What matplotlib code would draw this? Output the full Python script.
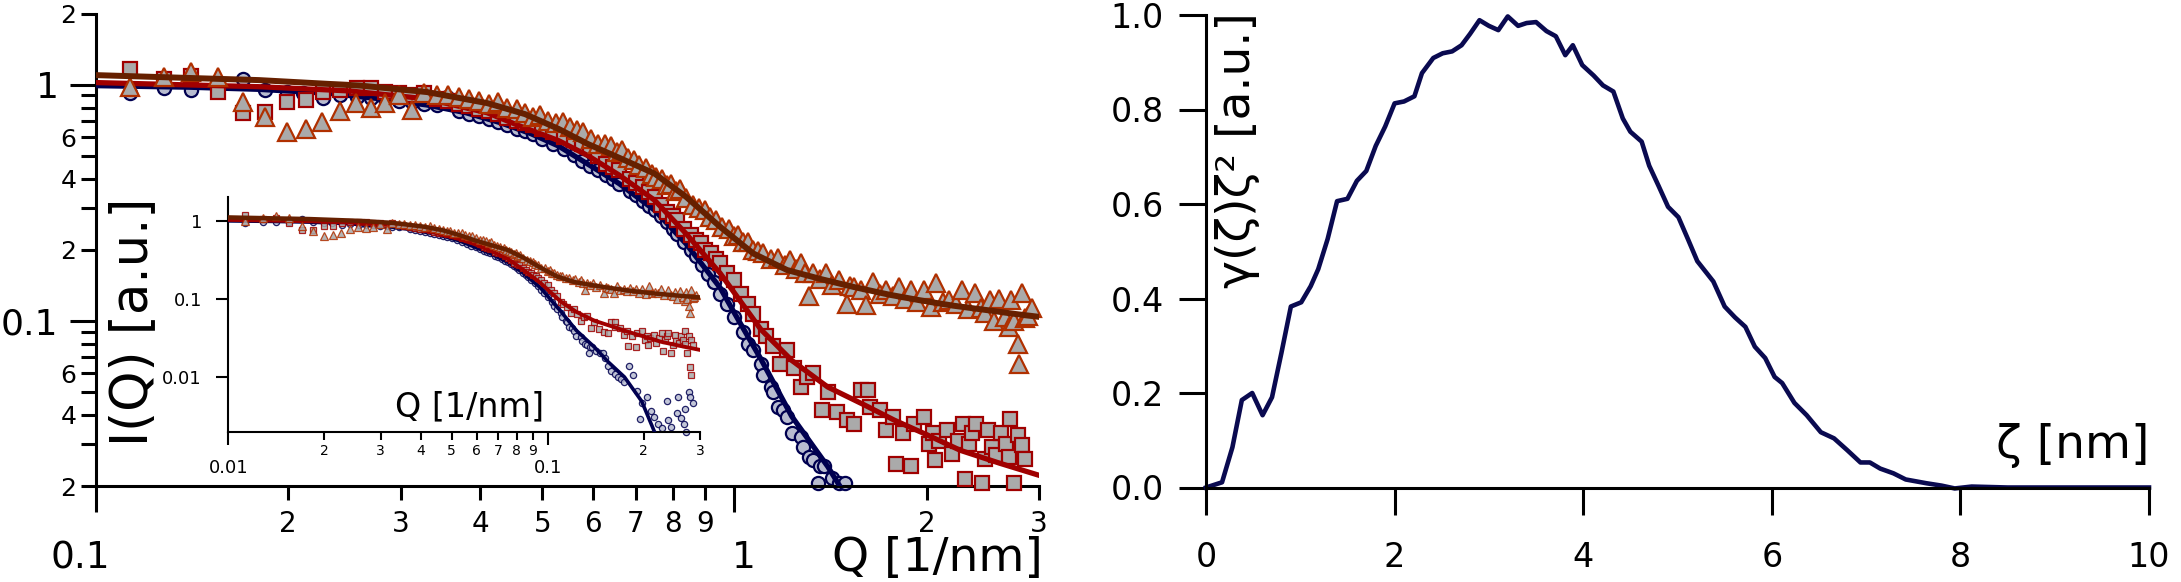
import numpy as np
import matplotlib
matplotlib.use("Agg")
import matplotlib.pyplot as plt
from matplotlib.ticker import FixedLocator, FixedFormatter, NullLocator
from matplotlib.transforms import ScaledTranslation

plt.rcParams['font.family'] = ['DejaVu Sans']

# ---- scattering curves, values (Q in 1/nm) ----
circle_q = [
    0.113, 0.128, 0.141, 0.155, 0.170, 0.184, 0.199, 0.211, 0.227, 0.241,
    0.256, 0.270, 0.284, 0.298, 0.313, 0.326, 0.342, 0.355, 0.370, 0.384,
    0.398, 0.413, 0.427, 0.441, 0.456, 0.470, 0.483, 0.500, 0.520, 0.540,
    0.560, 0.577, 0.595, 0.612, 0.630, 0.645, 0.660, 0.685, 0.700, 0.720,
    0.735, 0.750, 0.767, 0.784, 0.800, 0.814, 0.835, 0.855, 0.870, 0.890,
    0.910, 0.930, 0.950, 0.975, 1.000, 1.030, 1.050, 1.070, 1.100, 1.110,
    1.140, 1.150, 1.170, 1.190, 1.210, 1.230, 1.270, 1.280, 1.310, 1.330,
    1.350, 1.360, 1.380, 1.420, 1.460, 1.490, 1.510, 1.550, 1.580, 1.620,
    1.660, 1.700, 1.740, 1.800, 1.850, 1.900, 1.950, 1.970, 2.040, 2.100,
    2.160, 2.220, 2.280, 2.360, 2.380, 2.440, 2.540, 2.560, 2.620, 2.680,
    2.700, 2.720, 2.780, 2.800, 2.850]
circle_i = [
    0.918, 0.963, 0.948, 0.96, 1.06, 0.95, 0.93, 0.925, 0.874, 0.90,
    0.89, 0.88, 0.87, 0.855, 0.845, 0.83, 0.82, 0.888, 0.772, 0.752,
    0.735, 0.713, 0.694, 0.674, 0.652, 0.634, 0.616, 0.591, 0.563, 0.533,
    0.503, 0.477, 0.453, 0.434, 0.413, 0.397, 0.381, 0.355, 0.340, 0.321,
    0.307, 0.294, 0.277, 0.261, 0.246, 0.234, 0.216, 0.200, 0.189, 0.172,
    0.158, 0.146, 0.130, 0.118, 0.104, 0.090, 0.080, 0.075, 0.066, 0.059,
    0.0527, 0.050, 0.0434, 0.042, 0.039, 0.0334, 0.0324, 0.0292, 0.0265, 0.0258,
    0.0205, 0.0242, 0.0242, 0.0217, 0.0205, 0.0205, 0.0175, 0.0140, 0.0121, 0.0110,
    0.0100, 0.0095, 0.0086, 0.0140, 0.0105, 0.0067, 0.0029, 0.0046, 0.0056, 0.0037,
    0.0031, 0.0025, 0.0022, 0.0050, 0.0028, 0.0023, 0.0035, 0.0055, 0.0030, 0.0025,
    0.0039, 0.0020, 0.0064, 0.0055, 0.0046]

square_q = [
    0.113, 0.128, 0.141, 0.155, 0.170, 0.184, 0.199, 0.213, 0.227, 0.241,
    0.256, 0.270, 0.284, 0.298, 0.310, 0.326, 0.342, 0.356, 0.370, 0.384,
    0.398, 0.413, 0.427, 0.441, 0.456, 0.470, 0.483, 0.500, 0.520, 0.540,
    0.560, 0.577, 0.595, 0.612, 0.630, 0.645, 0.660, 0.685, 0.700, 0.720,
    0.735, 0.750, 0.767, 0.784, 0.800, 0.814, 0.835, 0.855, 0.870, 0.885,
    0.900, 0.920, 0.935, 0.950, 0.975, 1.000, 1.025, 1.050, 1.070, 1.100,
    1.120, 1.150, 1.180, 1.210, 1.240, 1.270, 1.300, 1.330, 1.370, 1.400,
    1.450, 1.500, 1.540, 1.580, 1.620, 1.630, 1.690, 1.730, 1.770, 1.790,
    1.840, 1.890, 1.910, 1.980, 2.020, 2.050, 2.060, 2.090, 2.150, 2.190,
    2.240, 2.280, 2.300, 2.330, 2.360, 2.390, 2.440, 2.470, 2.500, 2.530,
    2.570, 2.620, 2.660, 2.690, 2.700, 2.740, 2.780, 2.790, 2.810, 2.820,
    2.850]
square_i = [
    1.17, 1.06, 1.09, 0.932, 0.755, 0.767, 0.845, 0.86, 0.932, 0.948,
    0.963, 0.963, 0.932, 0.92, 0.90, 0.918, 0.87, 0.85, 0.83, 0.81,
    0.79, 0.77, 0.75, 0.72, 0.70, 0.69, 0.674, 0.65, 0.631, 0.60,
    0.582, 0.56, 0.545, 0.50, 0.463, 0.45, 0.435, 0.40, 0.385, 0.369,
    0.35, 0.335, 0.31, 0.289, 0.278, 0.267, 0.245, 0.23, 0.22, 0.213,
    0.20, 0.193, 0.183, 0.175, 0.16, 0.149, 0.13, 0.118, 0.107, 0.092,
    0.086, 0.078, 0.066, 0.075, 0.063, 0.0527, 0.058, 0.060, 0.042, 0.050,
    0.0412, 0.0379, 0.0367, 0.0508, 0.0508, 0.0434, 0.042, 0.0344, 0.039, 0.0249,
    0.0334, 0.0242, 0.0367, 0.039, 0.030, 0.0334, 0.0258, 0.0311, 0.0344, 0.0274,
    0.0311, 0.0367, 0.0215, 0.030, 0.0334, 0.0367, 0.0205, 0.026, 0.0344, 0.0292,
    0.027, 0.0334, 0.030, 0.0265, 0.0385, 0.0205, 0.033, 0.0134, 0.0105, 0.0298,
    0.026]

triangle_q = [
    0.113, 0.128, 0.141, 0.155, 0.170, 0.184, 0.199, 0.213, 0.226, 0.241,
    0.255, 0.270, 0.284, 0.298, 0.313, 0.326, 0.342, 0.356, 0.370, 0.384,
    0.398, 0.413, 0.427, 0.441, 0.456, 0.470, 0.483, 0.496, 0.510, 0.525,
    0.539, 0.553, 0.567, 0.580, 0.596, 0.612, 0.626, 0.640, 0.654, 0.667,
    0.681, 0.695, 0.710, 0.728, 0.742, 0.755, 0.770, 0.783, 0.797, 0.810,
    0.821, 0.840, 0.861, 0.880, 0.898, 0.915, 0.935, 0.955, 0.980, 1.000,
    1.014, 1.030, 1.050, 1.070, 1.090, 1.110, 1.140, 1.170, 1.200, 1.220,
    1.250, 1.270, 1.290, 1.310, 1.330, 1.360, 1.390, 1.420, 1.460, 1.500,
    1.520, 1.540, 1.580, 1.610, 1.650, 1.690, 1.730, 1.770, 1.810, 1.850,
    1.890, 1.930, 1.980, 2.030, 2.070, 2.120, 2.170, 2.220, 2.270, 2.320,
    2.380, 2.430, 2.470, 2.510, 2.550, 2.600, 2.650, 2.690, 2.710, 2.740,
    2.780, 2.790, 2.820, 2.850, 2.880, 2.920]
triangle_i = [
    0.98, 1.08, 1.13, 1.08, 0.845, 0.73, 0.63, 0.646, 0.696, 0.772,
    0.833, 0.80, 0.837, 0.90, 0.78, 0.918, 0.90, 0.90, 0.89, 0.87,
    0.85, 0.83, 0.845, 0.80, 0.79, 0.76, 0.73, 0.743, 0.70, 0.69,
    0.696, 0.66, 0.64, 0.631, 0.59, 0.563, 0.56, 0.549, 0.52, 0.528,
    0.49, 0.479, 0.455, 0.442, 0.42, 0.407, 0.40, 0.375, 0.381, 0.355,
    0.363, 0.33, 0.309, 0.30, 0.294, 0.275, 0.267, 0.25, 0.246, 0.228,
    0.231, 0.215, 0.216, 0.20, 0.198, 0.193, 0.182, 0.184, 0.172, 0.181,
    0.166, 0.175, 0.160, 0.128, 0.159, 0.150, 0.159, 0.142, 0.149, 0.118,
    0.140, 0.139, 0.135, 0.117, 0.146, 0.130, 0.135, 0.127, 0.139, 0.124,
    0.135, 0.120, 0.135, 0.115, 0.144, 0.120, 0.122, 0.118, 0.135, 0.112,
    0.131, 0.113, 0.108, 0.122, 0.100, 0.124, 0.104, 0.094, 0.122, 0.100,
    0.080, 0.066, 0.131, 0.1025, 0.105, 0.113]

# model fits
blue_fit_q = [0.10, 0.14, 0.18, 0.23, 0.28, 0.33, 0.38, 0.43, 0.48, 0.53, 0.59, 0.66,
              0.75, 0.84, 0.95, 1.01, 1.10, 1.23, 1.40, 1.55, 1.74, 1.97, 2.16]
blue_fit_i = [0.990, 0.975, 0.955, 0.92, 0.87, 0.82, 0.76, 0.69, 0.62, 0.55, 0.46, 0.381,
              0.294, 0.212, 0.138, 0.103, 0.069, 0.0394, 0.0242, 0.0155, 0.0100, 0.0049, 0.0020]
red_fit_q = [0.10, 0.18, 0.25, 0.33, 0.41, 0.46, 0.53, 0.59, 0.66, 0.75, 0.84, 0.95,
             1.10, 1.23, 1.40, 1.60, 1.78, 2.00, 2.26, 2.60, 3.00]
red_fit_i = [1.02, 0.98, 0.94, 0.87, 0.76, 0.67, 0.58, 0.50, 0.414, 0.324, 0.234, 0.159,
             0.092, 0.068, 0.0525, 0.044, 0.038, 0.033, 0.0283, 0.025, 0.0222]
brown_fit_q = [0.10, 0.18, 0.26, 0.33, 0.41, 0.47, 0.53, 0.59, 0.66, 0.75, 0.84, 0.95,
               1.07, 1.21, 1.37, 1.54, 1.75, 1.96, 2.20, 2.49, 2.75, 3.00]
brown_fit_i = [1.097, 1.045, 0.99, 0.93, 0.835, 0.75, 0.65, 0.56, 0.49, 0.42, 0.335, 0.25,
               0.193, 0.164, 0.150, 0.139, 0.129, 0.122, 0.116, 0.111, 0.107, 0.104]

# correlation function
zeta = [0.00, 0.17, 0.28, 0.38, 0.49, 0.60, 0.70, 0.80, 0.90, 1.01,
        1.11, 1.19, 1.29, 1.39, 1.50, 1.60, 1.70, 1.80, 1.90, 2.00,
        2.10, 2.21, 2.29, 2.41, 2.51, 2.61, 2.71, 2.80, 2.90, 3.00,
        3.10, 3.20, 3.31, 3.40, 3.50, 3.61, 3.71, 3.81, 3.89, 3.99,
        4.11, 4.21, 4.32, 4.42, 4.50, 4.62, 4.70, 4.80, 4.90, 5.01,
        5.11, 5.21, 5.38, 5.50, 5.61, 5.72, 5.82, 5.93, 6.03, 6.11,
        6.24, 6.37, 6.52, 6.66, 6.80, 6.94, 7.04, 7.15, 7.29, 7.42,
        7.64, 7.80, 7.94, 8.12, 8.50, 9.00, 9.50, 10.00]
gamma = [0.000, 0.011, 0.085, 0.185, 0.200, 0.153, 0.191, 0.285, 0.383, 0.392,
         0.426, 0.462, 0.526, 0.606, 0.611, 0.649, 0.670, 0.723, 0.764, 0.813,
         0.817, 0.828, 0.877, 0.909, 0.919, 0.923, 0.936, 0.960, 0.989, 0.977,
         0.968, 0.997, 0.977, 0.983, 0.985, 0.966, 0.955, 0.915, 0.936, 0.894,
         0.872, 0.851, 0.838, 0.781, 0.753, 0.732, 0.681, 0.638, 0.594, 0.572,
         0.526, 0.479, 0.436, 0.383, 0.360, 0.340, 0.298, 0.274, 0.234, 0.221,
         0.179, 0.153, 0.117, 0.104, 0.079, 0.053, 0.053, 0.040, 0.030, 0.017,
         0.009, 0.004, -0.002, 0.002, 0.0, 0.0, 0.0, 0.0]

navy = '#000050'
red = '#a00000'
brown = '#662000'
orange_edge = '#b03000'
grey = '#aaaaaa'
circle_face = '#b8bcd0'

W, H = 2181, 582
fig = plt.figure(figsize=(W / 100, H / 100), dpi=100)


def box(x0, y0, x1, y1):
    # axes rectangle from pixel corners, origin top-left
    return [x0 / W, 1 - y1 / H, (x1 - x0) / W, (y1 - y0) / H]


def fxy(x, y):
    return x / W, 1 - y / H


def keep(q, i, qlo, qhi, ilo, ihi, scale=1.0):
    q = np.asarray(q) / scale
    i = np.asarray(i)
    m = (q >= qlo) & (q <= qhi) & (i >= ilo) & (i <= ihi)
    return q[m], i[m]


def log_ticks(axis, major, major_lab, minor, minor_lab):
    axis.set_major_locator(FixedLocator(major))
    axis.set_major_formatter(FixedFormatter(major_lab))
    axis.set_minor_locator(FixedLocator(minor))
    axis.set_minor_formatter(FixedFormatter(minor_lab))


series = [(circle_q, circle_i, 'o', circle_face, navy),
          (square_q, square_i, 's', grey, red),
          (triangle_q, triangle_i, '^', grey, orange_edge)]
fits = [(blue_fit_q, blue_fit_i, navy),
        (red_fit_q, red_fit_i, red),
        (brown_fit_q, brown_fit_i, brown)]

# ---- main log-log panel ----
ax = fig.add_axes(box(96, 13.5, 1039, 486))
ax.set_xscale('log')
ax.set_yscale('log')
ms_main = [9.5, 10.5, 13.5]
lw_main = [3.8, 3.8, 4.3]
for k in range(3):
    q, i, mk, fc, ec = series[k]
    qq, ii = keep(q, i, 0.1, 3.0, 0.0195, 2.0)
    ax.plot(qq, ii, ls='none', marker=mk, ms=ms_main[k], mfc=fc, mec=ec,
            mew=1.6, clip_on=False, zorder=2 + 2 * k)
    fq, fi, c = fits[k]
    ax.plot(fq, fi, color=c, lw=lw_main[k], zorder=3 + 2 * k)
ax.set_xlim(0.1, 3)
ax.set_ylim(0.02, 2)
log_ticks(ax.xaxis, [0.1, 1], ['0.1', '1'],
          [0.2, 0.3, 0.4, 0.5, 0.6, 0.7, 0.8, 0.9, 2, 3],
          ['2', '3', '4', '5', '6', '7', '8', '9', '2', '3'])
log_ticks(ax.yaxis, [0.1, 1], ['0.1', '1'],
          [0.02, 0.03, 0.04, 0.05, 0.06, 0.07, 0.08, 0.09,
           0.2, 0.3, 0.4, 0.5, 0.6, 0.7, 0.8, 0.9, 2],
          ['2', '', '4', '', '6', '', '', '', '2', '', '4', '', '6', '', '', '', '2'])
ax.tick_params(which='both', direction='out', width=2.2)
ax.tick_params(axis='x', which='major', length=19, pad=20, labelsize=27)
ax.tick_params(axis='x', which='minor', length=10, pad=7, labelsize=20)
ax.tick_params(axis='y', which='major', length=19, pad=8, labelsize=26)
ax.tick_params(axis='y', which='minor', length=10.5, pad=3.5, labelsize=18)
for s in ['top', 'right']:
    ax.spines[s].set_visible(False)
for s in ['left', 'bottom']:
    ax.spines[s].set_linewidth(2.2)
for tick, dx in zip(ax.xaxis.get_major_ticks(), [-16, 9]):
    tick.label1.set_transform(tick.label1.get_transform()
                              + ScaledTranslation(dx / 100, 0, fig.dpi_scale_trans))

# ---- inset (same data, Q / 10) ----
ins = fig.add_axes(box(228.3, 197, 700, 431.7))
ins.patch.set_alpha(0)
ins.set_xscale('log')
ins.set_yscale('log')
ms_ins = [4.5, 4.5, 5.5]
lw_ins = [2.6, 2.8, 3.2]
for k in range(3):
    q, i, mk, fc, ec = series[k]
    qq, ii = keep(q, i, 0.01, 0.3, 0.002, 2.0, scale=10.0)
    ins.plot(qq, ii, ls='none', marker=mk, ms=ms_ins[k], mfc=fc, mec=ec,
             mew=0.9, alpha=0.85, clip_on=False, zorder=2 + 2 * k)
    fq, fi, c = fits[k]
    ins.plot(np.asarray(fq) / 10, fi, color=c, lw=lw_ins[k], zorder=3 + 2 * k)
ins.set_xlim(0.01, 0.3)
ins.set_ylim(0.002, 2)
log_ticks(ins.xaxis, [0.01, 0.1], ['0.01', '0.1'],
          [0.02, 0.03, 0.04, 0.05, 0.06, 0.07, 0.08, 0.09, 0.2, 0.3],
          ['2', '3', '4', '5', '6', '7', '8', '9', '2', '3'])
ins.yaxis.set_major_locator(FixedLocator([0.01, 0.1, 1]))
ins.yaxis.set_major_formatter(FixedFormatter(['0.01', '0.1', '1']))
ins.yaxis.set_minor_locator(NullLocator())
ins.tick_params(which='both', direction='out', width=1.5)
ins.tick_params(axis='x', which='major', length=9.5, pad=10, labelsize=13)
ins.tick_params(axis='x', which='minor', length=5.8, pad=3, labelsize=10)
ins.tick_params(axis='y', which='major', length=9, pad=10, labelsize=13)
for s in ['top', 'right']:
    ins.spines[s].set_visible(False)
for s in ['left', 'bottom']:
    ins.spines[s].set_linewidth(1.5)

# ---- correlation function panel ----
ax2 = fig.add_axes(box(1206, 15, 2149, 487.5))
ax2.plot(zeta, gamma, color='#0a0a50', lw=3.3, clip_on=False)
ax2.set_xlim(0, 10)
ax2.set_ylim(0, 1)
ax2.set_xticks([0, 2, 4, 6, 8, 10])
ax2.set_yticks([0, 0.2, 0.4, 0.6, 0.8, 1.0])
ax2.set_yticklabels(['0.0', '0.2', '0.4', '0.6', '0.8', '1.0'])
ax2.tick_params(direction='out', length=19.5, width=2.2, labelsize=24)
ax2.tick_params(axis='x', pad=19)
ax2.tick_params(axis='y', pad=11)
for s in ['top', 'right']:
    ax2.spines[s].set_visible(False)
for s in ['left', 'bottom']:
    ax2.spines[s].set_linewidth(2.2)

# axis titles sit inside the frames, as in the original
fig.text(*fxy(1043, 559), 'Q [1/nm]', ha='right', va='center', fontsize=34)
fig.text(*fxy(133, 322), 'I(Q) [a.u.]', rotation=90, ha='center', va='center', fontsize=37)
fig.text(*fxy(470, 407), 'Q [1/nm]', ha='center', va='center', fontsize=24)
fig.text(*fxy(1238, 150), 'γ(ζ)ζ² [a.u.]', rotation=90, ha='center', va='center', fontsize=34)
fig.text(*fxy(2149, 445), 'ζ [nm]', ha='right', va='center', fontsize=34)

fig.savefig('out.png', dpi=100)
